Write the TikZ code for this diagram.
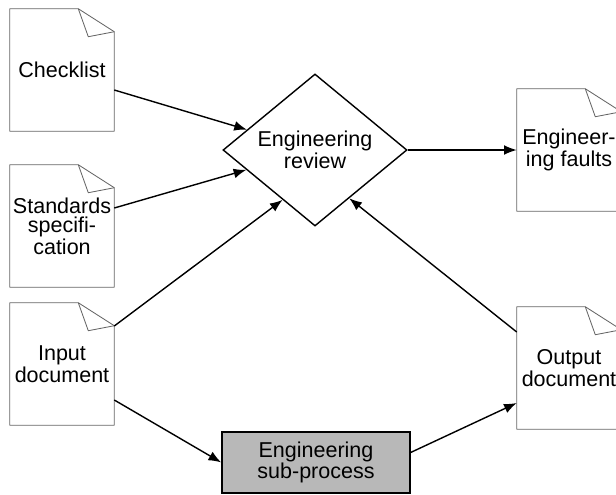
\documentclass[tikz,border=0pt]{standalone}
\usepackage{fontspec}
\setmainfont{Liberation Sans}
\usetikzlibrary{calc,arrows.meta,shapes.geometric}

\begin{document}
\begin{tikzpicture}[x=1cm,y=1cm,doc/.style={draw=none,minimum width=2.600cm,minimum height=3.050cm,inner sep=0pt,align=center,font=\fontsize{15.3pt}{14pt}\selectfont},docline/.style={draw=black!60,line width=0.6pt,line join=round},review/.style={diamond,draw=black,line width=1pt,minimum width=4.600cm,minimum height=2.900cm,inner sep=0pt,align=center,font=\fontsize{15.3pt}{14pt}\selectfont},proc/.style={draw=black,line width=1.2pt,fill=black!28,minimum width=4.700cm,minimum height=1.525cm,inner sep=0pt,align=center,font=\fontsize{15.3pt}{15.5pt}\selectfont},edge/.style={draw=black,line width=1pt,-{Latex[length=9pt,width=7pt]}}]
\clip (0,0) rectangle (15.4,-12.375);
\node[doc] (chk) at (1.550,-1.750) {Checklist};
\node[doc] (std) at (1.550,-5.650) {Standards\\specifi-\\cation};
\node[doc] (inp) at (1.550,-9.100) {Input\\document};
\node[review] (rev) at (7.875,-3.750) {Engineering\\review};
\node[doc] (flt) at (14.225,-3.750) {Engineer-\\ing faults};
\node[doc] (out) at (14.225,-9.200) {Output\\document};
\node[proc] (sub) at (7.900,-11.560) {Engineering\\sub-process};
% dog-eared page outlines
\foreach \n in {chk,std,inp,flt,out}{
  \draw[docline] (\n.south west) -- (\n.north west) -- ($(\n.north east)+(-0.9,0)$) -- ($(\n.north east)+(0,-0.575)$) -- (\n.south east) -- cycle;
  \draw[docline] ($(\n.north east)+(-0.9,0)$) -- ($(\n.north east)+(-0.65,-0.7)$) -- ($(\n.north east)+(0,-0.575)$);
}
\draw[edge] ($(chk.east)+(0,-0.5)$) -- (rev);
\draw[edge] ($(std.east)+(0,0.45)$) -- (rev);
\draw[edge] ($(inp.east)+(0,0.95)$) -- ($(rev.west)!0.65!(rev.south)$);
\draw[edge] ($(out.west)+(0,0.9)$) -- ($(rev.east)!0.63!(rev.south)$);
\draw[edge] (rev.east) -- (flt.west);
\draw[edge] ($(inp.east)+(0,-0.9)$) -- (sub.west);
\draw[edge] ($(sub.east)+(0,0.25)$) -- ($(out.west)+(0,-0.875)$);
\end{tikzpicture}
\end{document}
